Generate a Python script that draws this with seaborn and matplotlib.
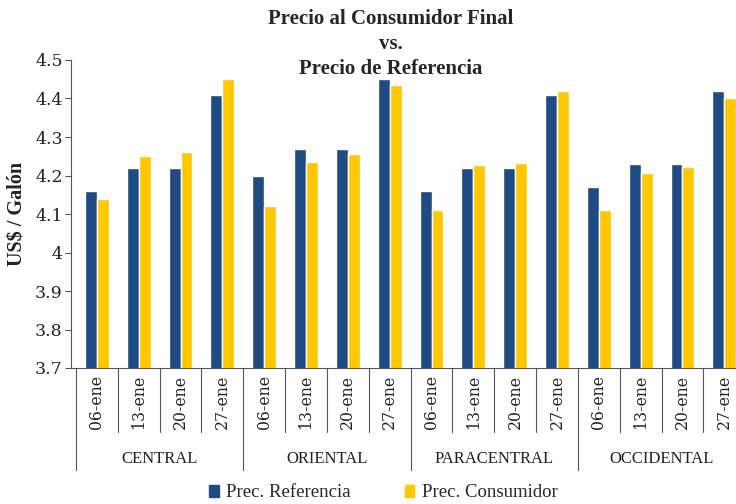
import numpy as np
import pandas as pd
import matplotlib.pyplot as plt
import seaborn as sns
from matplotlib.patches import Patch

# Datos
regiones = ["CENTRAL", "ORIENTAL", "PARACENTRAL", "OCCIDENTAL"]
fechas = ["06-ene", "13-ene", "20-ene", "27-ene"]
series = ["Prec. Referencia", "Prec. Consumidor"]
prec_referencia = [4.16, 4.22, 4.22, 4.41,
                   4.20, 4.27, 4.27, 4.45,
                   4.16, 4.22, 4.22, 4.41,
                   4.17, 4.23, 4.23, 4.42]
prec_consumidor = [4.14, 4.25, 4.26, 4.45,
                   4.12, 4.235, 4.255, 4.435,
                   4.11, 4.228, 4.233, 4.42,
                   4.11, 4.207, 4.222, 4.40]
y_ticks = [3.7, 3.8, 3.9, 4.0, 4.1, 4.2, 4.3, 4.4, 4.5]
y_ticklabels = ["3.7", "3.8", "3.9", "4", "4.1", "4.2", "4.3", "4.4", "4.5"]

colores = {"Prec. Referencia": "#1F4A82", "Prec. Consumidor": "#FFC800"}

sns.set_style("white")
plt.rcParams["font.family"] = ["DejaVu Serif"]

etiquetas = [f"{r}|{f}" for r in regiones for f in fechas]
df = pd.DataFrame({
    "cat": etiquetas * 2,
    "serie": [series[0]] * len(etiquetas) + [series[1]] * len(etiquetas),
    "valor": prec_referencia + prec_consumidor,
})

fig, ax = plt.subplots(figsize=(7.36, 5.04), dpi=100)
fig.subplots_adjust(left=71 / 736, right=1.0, bottom=136 / 504, top=444 / 504)

sns.barplot(data=df, x="cat", y="valor", hue="serie", order=etiquetas,
            hue_order=series, palette=colores, width=0.57, saturation=1,
            errorbar=None, legend=False, ax=ax)

ax.set_ylim(3.7, 4.5)
ax.set_xlim(-0.62, 15.28)
ax.set_yticks(y_ticks)
ax.set_yticklabels(y_ticklabels)
ax.tick_params(axis="y", length=4, width=0.8, color="#555555", labelsize=12.5,
               labelcolor="#222222", left=True, pad=2)
ax.tick_params(axis="x", length=0, labelbottom=False)
ax.set_xlabel("")
ax.set_ylabel("US$ / Galón", fontsize=14.5, fontweight="bold",
              family="Liberation Serif", labelpad=5, color="#222222")
for s in ["top", "right"]:
    ax.spines[s].set_visible(False)
for s in ["left", "bottom"]:
    ax.spines[s].set_color("#555555")
    ax.spines[s].set_linewidth(0.8)

# Etiquetas jerarquicas del eje x
trans = ax.get_xaxis_transform()
for i, et in enumerate(etiquetas):
    ax.text(i, -0.022, et.split("|")[1], rotation=90, ha="center", va="top",
            transform=trans, fontsize=11.3, color="#222222")
for b in np.arange(-0.5, 15, 1):
    largo = -0.331 if (b + 0.5) % 4 == 0 else -0.208
    ax.plot([b, b], [0, largo], transform=trans, color="#555555", lw=0.8,
            clip_on=False)
for k, r in enumerate(regiones):
    ax.text(k * 4 + 1.5, -0.295, r, ha="center", va="center", transform=trans,
            fontsize=12, family="Liberation Serif", color="#222222")

# Titulo
titulo = ["Precio al Consumidor Final", "vs.", "Precio de Referencia"]
for j, t in enumerate(titulo):
    fig.text(0.531, 1 - (19 + 25 * j) / 504, t, ha="center", va="center",
             fontsize=15, fontweight="bold", family="Liberation Serif")

handles = [Patch(color=colores[s], label=s) for s in series]
fig.legend(handles=handles, loc="center", bbox_to_anchor=(0.521, 0.022),
           ncol=2, frameon=False, handlelength=0.5, handleheight=0.6,
           handletextpad=0.4, columnspacing=2.9,
           prop={"family": "Liberation Serif", "size": 13.5})

fig.savefig("out.png", dpi=100)
